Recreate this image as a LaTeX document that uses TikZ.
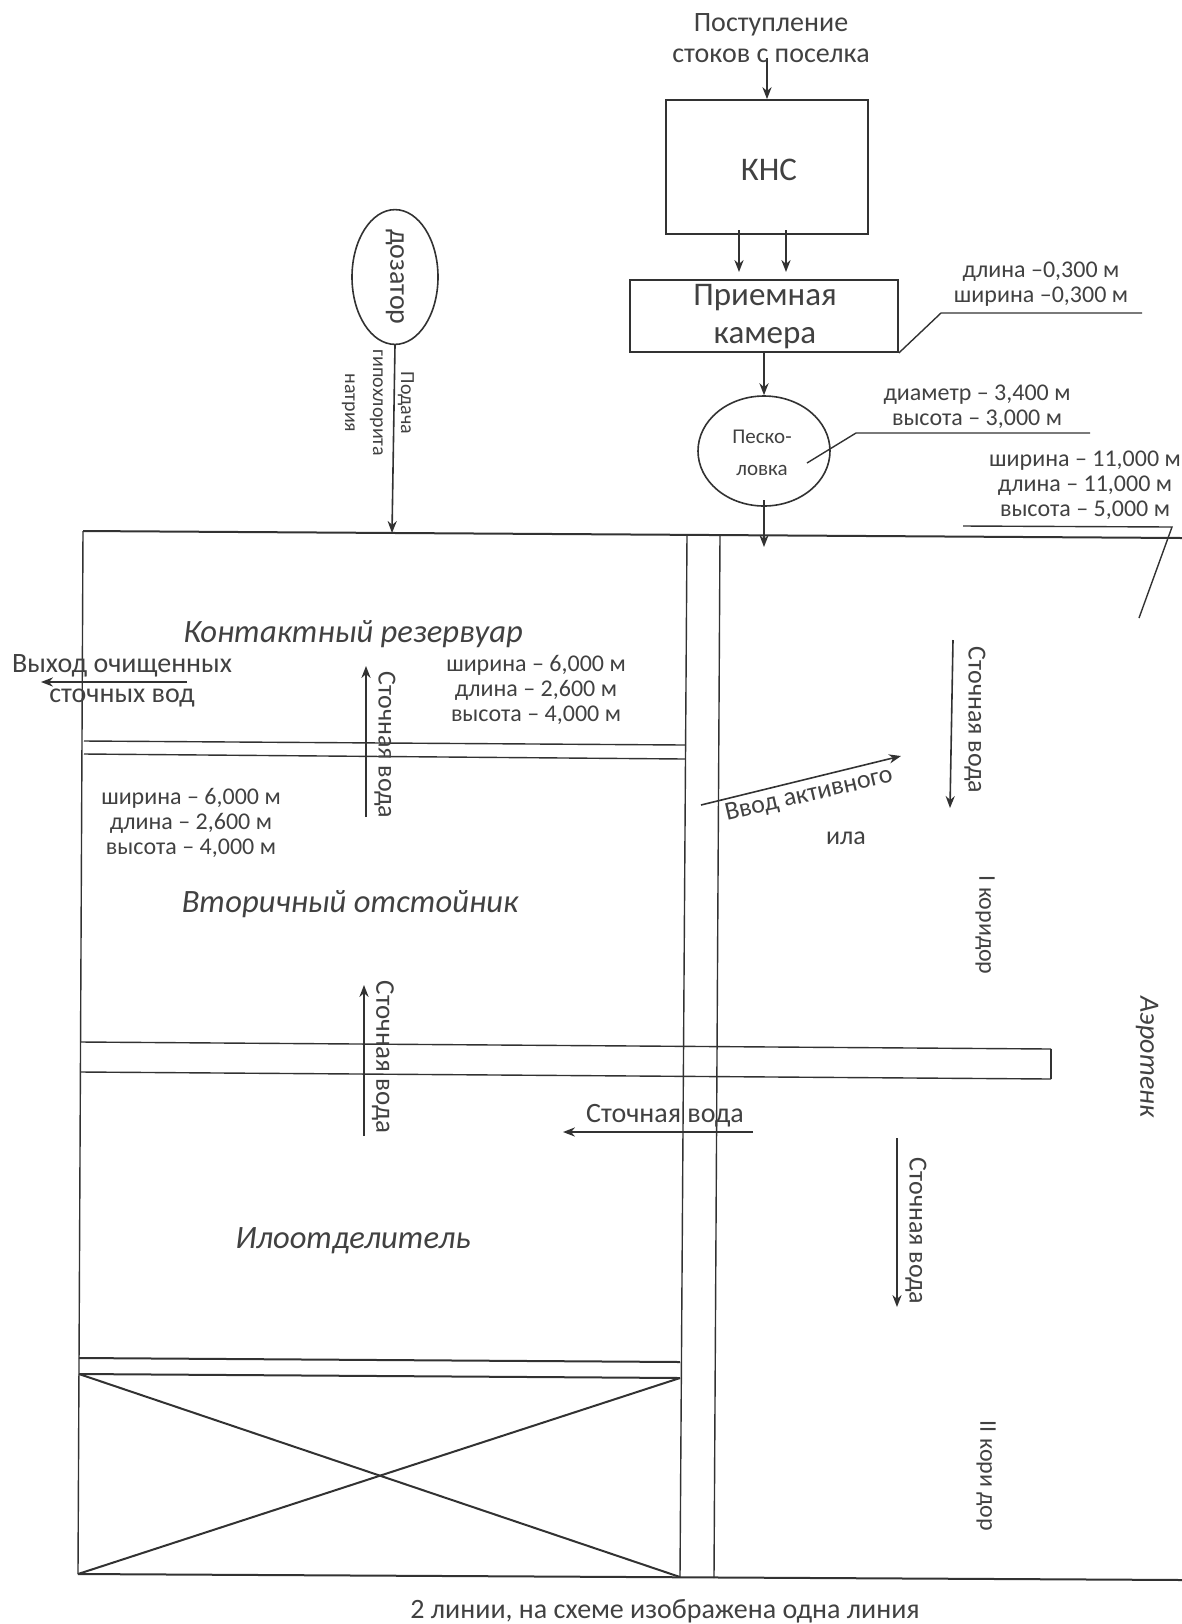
\documentclass[tikz,border=0pt]{standalone}
\usepackage{fontspec}
\setmainfont{Carlito}
\usepackage{color}
\definecolor{scanline}{RGB}{50, 50, 50}
\definecolor{scantext}{RGB}{65, 65, 65}
\usetikzlibrary{arrows.meta}
\usetikzlibrary{shapes.geometric}
\tikzstyle{box} = [rectangle,draw=scanline,line width=0.9pt,inner sep=0pt]
\tikzstyle{oval} = [ellipse,draw=scanline,line width=0.8pt,inner sep=0pt]
\tikzstyle{lbl} = [text=scantext,inner sep=0pt,align=center,font=\fontsize{14}{15}\selectfont]
\tikzstyle{flowlbl} = [lbl,rotate=-90,font=\fontsize{13}{14}\selectfont]
\tikzstyle{big} = [lbl,font=\fontsize{16.5}{19}\selectfont]
\tikzstyle{dims} = [lbl,font=\fontsize{12}{12.5}\selectfont]
\tikzstyle{title} = [lbl,font=\fontsize{16.3}{19}\selectfont\itshape]
\tikzstyle{wall} = [draw=scanline,line width=0.7pt]
\tikzstyle{heavy} = [draw=scanline,line width=1pt]

\begin{document}
\begin{tikzpicture}[-,> = {Stealth[length=6pt,width=4.6pt]},x=0.5pt,y=-0.5pt]
    \useasboundingbox (0,0) rectangle (1182,1624);

      % boxes and ovals
      \node[box,minimum width=101pt,minimum height=67pt] (kns) at (767,167) {};
      \node[big] (knstxt) at (769,170) {КНС};
      \node[box,minimum width=134pt,minimum height=36pt] (kamera) at (764,316) {};
      \node[big] (kamtxt) at (765,317) {Приемная\\камера};
      \node[oval,minimum width=66pt,minimum height=55pt] (pesko) at (764,451) {};
      \node[lbl,font=\fontsize{10.5}{16}\selectfont] (peskotxt) at (762,453) {Песко-\\ловка};
      \node[oval,rotate=-90,minimum width=60pt,minimum height=43pt,font=\fontsize{14}{15}\selectfont,text=scantext] (dozator) at (395,277) {дозатор};

      % free ends
      \coordinate (inflow) at (767,58);
      \coordinate (kns1) at (739,230);
      \coordinate (kns2) at (786,230);
      \coordinate (kam1) at (739,272);
      \coordinate (kam2) at (786,272);
      \coordinate (dozin) at (392,533);
      \coordinate (peskoout) at (764,500);
      \coordinate (aerin) at (764,547);

      % walls of the tanks
      \coordinate (tl) at (83,531);
      \coordinate (bl) at (78,1574);
      \coordinate (tr) at (1182,538);
      \coordinate (br) at (1182,1580);
      \coordinate (c1t) at (687,535);
      \coordinate (c1b) at (680,1577);
      \coordinate (c2t) at (720,536);
      \coordinate (c2b) at (714,1578);
      \path[heavy] (tl) edge (tr) (bl) edge (br);
      \path[wall] (tl) edge (bl) (c1t) edge (c1b) (c2t) edge (c2b);

      \coordinate (a1) at (84,741);
      \coordinate (a2) at (685,745);
      \coordinate (b1) at (84,754);
      \coordinate (b2) at (685,759);
      \coordinate (d1) at (81,1042);
      \coordinate (d2) at (1051,1049);
      \coordinate (e1) at (81,1072);
      \coordinate (e2) at (1051,1079);
      \coordinate (f1) at (79,1358);
      \coordinate (f2) at (680,1362);
      \coordinate (g1) at (79,1374);
      \coordinate (g2) at (680,1378);
      \path[wall] (a1) edge (a2) (b1) edge (b2) (d1) edge (d2) (e1) edge (e2) (d2) edge (e2);
      \path[heavy] (f1) edge (f2) (g1) edge (g2) (g1) edge (c1b) (g2) edge (bl);

      % flow arrows
      \coordinate (out1) at (187,682);
      \coordinate (out2) at (41,682);
      \coordinate (up1a) at (366,817);
      \coordinate (up1b) at (366,666);
      \coordinate (up2a) at (364,1136);
      \coordinate (up2b) at (364,985);
      \coordinate (back1) at (753,1132);
      \coordinate (back2) at (563,1132);
      \coordinate (ila1) at (701,805);
      \coordinate (ila2) at (901,756);
      \coordinate (down1a) at (953,640);
      \coordinate (down1b) at (950,808);
      \coordinate (down2a) at (897,1138);
      \coordinate (down2b) at (897,1307);

      \path[->, color=scanline, line width=0.8pt]
        \foreach \y/\i in {inflow/kns.north,kns1/kam1,kns2/kam2,kamera.south/pesko.north,dozator.east/dozin,
                           peskoout/aerin,out1/out2,up1a/up1b,up2a/up2b,back1/back2,ila1/ila2,
                           down1a/down1b,down2a/down2b} {
          (\y) edge (\i)
        } ;

      % leaders of the size labels
      \coordinate (lead1a) at (941,313);
      \coordinate (lead1b) at (1142,313);
      \coordinate (lead2) at (807,463);
      \coordinate (lead2a) at (856,433);
      \coordinate (lead2b) at (1090,433);
      \coordinate (lead3) at (963,526);
      \coordinate (lead3a) at (1172,527);
      \coordinate (lead3b) at (1139,618);
      \draw[wall] (kamera.south east) -- (lead1a) -- (lead1b);
      \draw[wall] (lead2) -- (lead2a) -- (lead2b);
      \draw[wall] (lead3) -- (lead3a) -- (lead3b);

      % texts
      \node[lbl,font=\fontsize{14}{15.5}\selectfont] (inflowtxt) at (771,38) {Поступление\\стоков с поселка};
      \node[dims,font=\fontsize{10}{14}\selectfont,rotate=-90] (podacha) at (378,403) {Подача\\гипохлорита\\натрия};
      \node[dims] (dimkam) at (1041,284) {длина  –0,300 м\\ширина –0,300 м};
      \node[dims] (dimpesko) at (977,407) {диаметр – 3,400 м\\высота – 3,000 м};
      \node[dims] (dimaer) at (1085,485) {ширина – 11,000 м\\длина – 11,000 м\\высота – 5,000 м};
      \node[dims] (dimres) at (536,690) {ширина – 6,000 м\\длина – 2,600 м\\высота – 4,000 м};
      \node[dims] (dimotst) at (191,823) {ширина – 6,000 м\\длина – 2,600 м\\высота – 4,000 м};
      \node[lbl,font=\fontsize{14}{15}\selectfont] (exit) at (122,681) {Выход очищенных\\сточных вод};
      \node[title] (res) at (353,634) {Контактный резервуар};
      \node[title] (otst) at (350,904) {Вторичный отстойник};
      \node[title] (ilo) at (353,1241) {Илоотделитель};
      \node[title,rotate=-90,font=\fontsize{14}{15}\selectfont\itshape] (aer) at (1147,1057) {Аэротенк};
      \node[flowlbl] (w1) at (385,745) {Сточная вода};
      \node[flowlbl,font=\fontsize{13.5}{14}\selectfont] (w2) at (383,1057) {Сточная вода};
      \node[lbl] (w3) at (665,1116) {Сточная вода};
      \node[flowlbl] (w4) at (975,720) {Сточная вода};
      \node[flowlbl] (w5) at (916,1231) {Сточная вода};
      \node[lbl,rotate=13,font=\fontsize{13}{14}\selectfont] (ila) at (809,795) {Ввод активного};
      \node[lbl,font=\fontsize{13}{14}\selectfont] (ila2txt) at (846,838) {ила};
      \node[dims,rotate=-90] (cor1) at (985,925) {I коридор};
      \node[dims,rotate=-90] (cor2) at (986,1476) {II кори дор};
      \node[lbl] (note) at (665,1611) {2 линии, на схеме изображена одна линия};
    \end{tikzpicture}
\end{document}
